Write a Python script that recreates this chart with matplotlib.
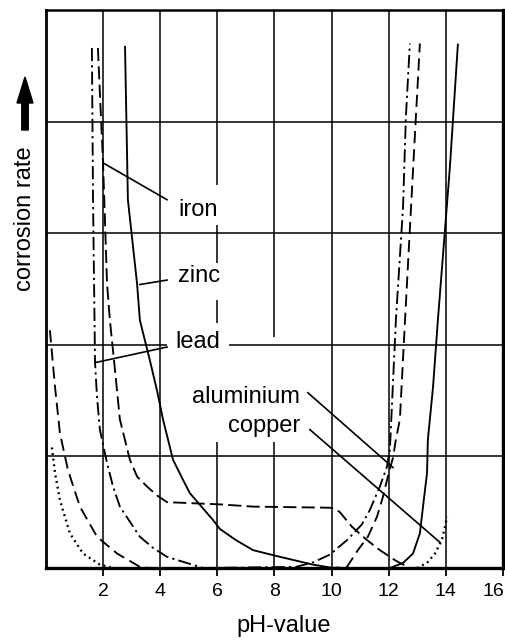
import matplotlib
matplotlib.use('Agg')
import matplotlib.pyplot as plt
import matplotlib.patches as mpatches
from matplotlib.transforms import ScaledTranslation

plt.rcParams['font.family'] = ['Liberation Sans', 'DejaVu Sans']

# curve values (pH, relative corrosion rate 0..5)
iron_x = [1.82, 2.00, 2.14, 2.24, 2.42, 2.59, 2.94, 3.19, 3.54, 3.89, 4.24, 5.15, 6.09, 7.25, 9.94, 10.12, 10.29, 10.71, 11.24, 11.69, 12.22, 12.39, 12.67]
iron_y = [4.66, 3.63, 2.55, 2.22, 1.77, 1.33, 0.97, 0.82, 0.73, 0.65, 0.59, 0.58, 0.57, 0.55, 0.54, 0.53, 0.50, 0.37, 0.25, 0.16, 0.07, 0.045, 0.01]

zinc_x = [2.77, 2.87, 3.19, 3.29, 3.64, 3.89, 4.10, 4.45, 4.76, 5.04, 5.85, 6.09, 6.65, 7.25, 8.19, 9.35, 10.05,
          12.04, 12.50, 12.85, 13.09, 13.20, 13.34, 13.37, 13.55, 13.72, 14.14, 14.42]
zinc_y = [4.67, 3.30, 2.55, 2.22, 1.86, 1.59, 1.33, 0.97, 0.81, 0.67, 0.43, 0.35, 0.25, 0.16, 0.10, 0.03, 0.0,
          0.0, 0.045, 0.13, 0.31, 0.55, 0.85, 1.15, 1.62, 2.22, 3.59, 4.69]

lead_x = [1.61, 1.65, 1.72, 1.79, 1.89, 2.14, 2.35, 2.59, 3.29, 3.75, 4.24, 5.50,
          8.75, 9.35, 9.94, 10.54, 11.06, 11.34, 11.69, 11.94, 12.04, 12.25, 12.50, 12.60, 12.74]
lead_y = [4.66, 3.30, 1.84, 1.53, 1.24, 0.94, 0.73, 0.55, 0.28, 0.18, 0.10, 0.0,
          0.01, 0.05, 0.12, 0.25, 0.39, 0.52, 0.73, 0.91, 1.06, 2.22, 3.23, 4.04, 4.70]

alu_x = [0.14, 0.32, 0.49, 0.77, 1.19, 1.79, 2.49, 3.29, 3.64,
         10.0, 10.54, 10.92, 11.27, 11.59, 11.80, 11.97, 12.15, 12.25, 12.39, 12.57, 12.78, 12.95, 13.09]
alu_y = [2.13, 1.62, 1.21, 0.88, 0.55, 0.28, 0.13, 0.01, 0.0,
         0.0, 0.01, 0.16, 0.28, 0.46, 0.64, 0.82, 0.99, 1.15, 1.33, 2.22, 3.23, 4.04, 4.70]

copper_left_x = [0.21, 0.32, 0.49, 0.84, 1.30, 1.89, 2.35]
copper_left_y = [1.08, 0.85, 0.61, 0.31, 0.13, 0.03, 0.0]
copper_right_x = [12.99, 13.34, 13.62, 13.86, 13.97, 14.04]
copper_right_y = [0.0, 0.045, 0.13, 0.25, 0.37, 0.46]

xticks = [2, 4, 6, 8, 10, 12, 14, 16]

fig = plt.figure(figsize=(5.06, 6.41), dpi=100)
ax = fig.add_axes([0.0907, 0.1139, 0.9034, 0.8705])
ax.set_xlim(0, 16)
ax.set_ylim(0, 5)

# grid (some lines are broken where the labels sit)
gk = dict(color='black', lw=1.1, zorder=1)
for gx in [2, 4, 10, 12, 14]:
    ax.vlines(gx, 0, 5, **gk)
for y0, y1 in [(0, 1.13), (2.195, 2.40), (2.71, 3.07), (3.43, 5)]:
    ax.vlines(6, y0, y1, **gk)
for y0, y1 in [(0, 1.13), (2.07, 5)]:
    ax.vlines(8, y0, y1, **gk)
for gy in [1, 3, 4]:
    ax.hlines(gy, 0, 16, **gk)
for x0, x1 in [(0, 4.24), (6.4, 16)]:
    ax.hlines(2, x0, x1, **gk)

lw = 1.35
ax.plot(iron_x, iron_y, color='black', lw=lw, dashes=(7, 2.8), zorder=3)
ax.plot(zinc_x, zinc_y, color='black', lw=lw, zorder=3)
ax.plot(lead_x, lead_y, color='black', lw=lw, dashes=(7, 2.2, 1.2, 2.2), zorder=3)
ax.plot(alu_x, alu_y, color='black', lw=lw, dashes=(6.5, 3.2), zorder=3)
ax.plot(copper_left_x, copper_left_y, color='black', lw=1.7, dashes=(0.8, 1.6), zorder=3)
ax.plot(copper_right_x, copper_right_y, color='black', lw=1.7, dashes=(0.8, 1.6), zorder=3)

# labels with leader lines
lk = dict(color='black', lw=1.2, zorder=4)
ax.plot([2.00, 4.24], [3.63, 3.30], **lk)
ax.plot([3.29, 4.24], [2.54, 2.58], **lk)
ax.plot([1.72, 4.24], [1.84, 1.98], **lk)
ax.plot([9.17, 12.15], [1.57, 0.90], **lk)
ax.plot([9.24, 13.79], [1.24, 0.23], **lk)

tk = dict(fontsize=17, va='baseline', zorder=5,
          bbox=dict(facecolor='white', edgecolor='none', pad=1.5))
ax.text(4.62, 3.155, 'iron', ha='left', **tk)
ax.text(4.62, 2.563, 'zinc', ha='left', **tk)
ax.text(4.52, 1.971, 'lead', ha='left', **tk)
ax.text(8.89, 1.478, 'aluminium', ha='right', **tk)
ax.text(8.89, 1.219, 'copper', ha='right', **tk)

ax.set_xticks(xticks)
ax.set_xticklabels([str(t) for t in xticks])
ax.set_yticks([])
ax.tick_params(axis='x', direction='out', length=6, width=1.3, pad=5, labelsize=14)
# last label sits a little left so it stays inside the picture
last = ax.get_xticklabels()[-1]
last.set_transform(last.get_transform() + ScaledTranslation(-10 / 100, 0, fig.dpi_scale_trans))

ax.spines['left'].set_linewidth(2.0)
ax.spines['bottom'].set_linewidth(2.4)
ax.spines['right'].set_linewidth(2.4)
ax.spines['top'].set_linewidth(1.8)

ax.set_xlabel('pH-value', fontsize=17)
ax.xaxis.label.set_va('baseline')
ax.xaxis.set_label_coords(0.521, -0.1147)

fig.text(25 / 506, (641 - 219) / 641, 'corrosion rate', rotation=90,
         fontsize=17, ha='center', va='center')
arrow = mpatches.FancyArrow(0.25, 5.11, 0, 0.53, width=0.065, head_width=0.16,
                            head_length=0.26, length_includes_head=True,
                            color='black', transform=fig.dpi_scale_trans)
fig.add_artist(arrow)

fig.savefig('out.png', dpi=100)
